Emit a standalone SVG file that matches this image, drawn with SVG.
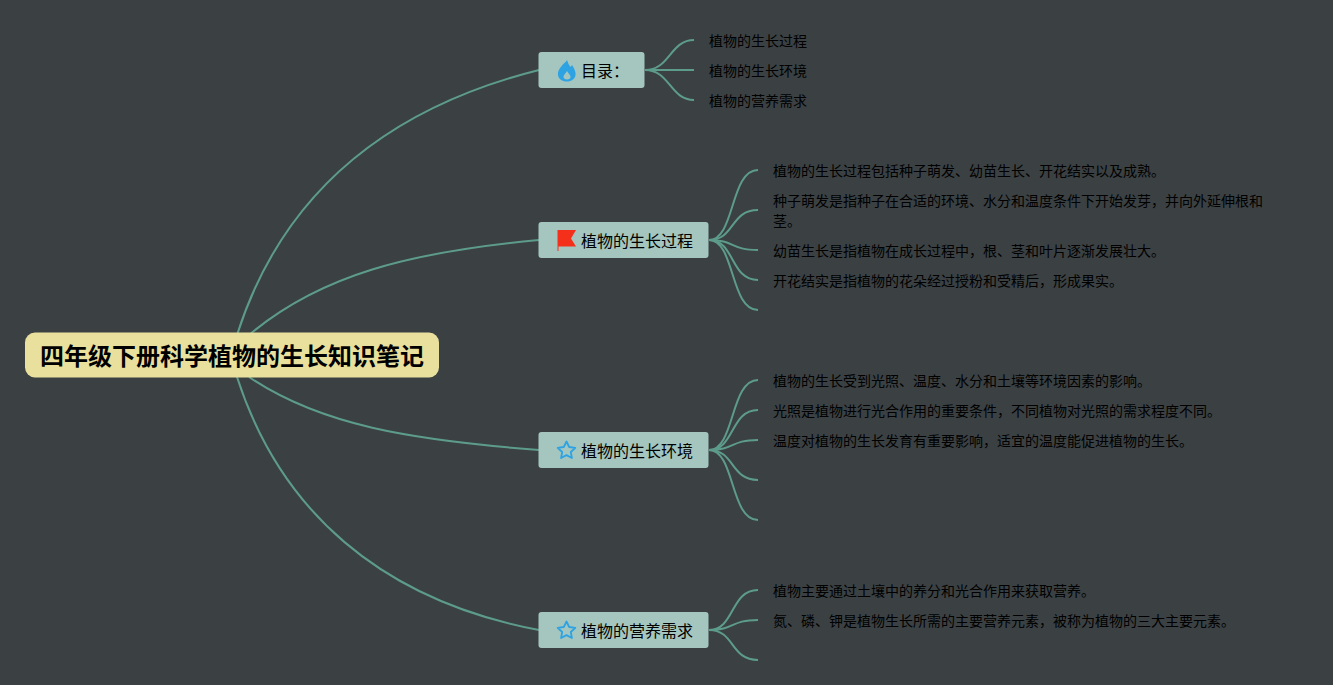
<svg xmlns="http://www.w3.org/2000/svg" width="1333" height="685" viewBox="0 0 1333 685">
<style>
text{font-family:"Liberation Sans","Noto Sans CJK SC",sans-serif;fill:#000}
.c{fill:none;stroke:#5d9c8a;stroke-width:2}
.b{fill:#a4c6bf}
.t{font-size:16px}
.l{font-size:14px}
.r{font-size:24px;font-weight:700}
.star{fill:none;stroke:#2ea3e3;stroke-width:1.800;stroke-linejoin:round}
</style>
<defs><path id="star" class="star" d="M0-8.500L2.700-3 8.800-2.200 4.300 2 5.400 8 0 5.100-5.400 8-4.300 2-8.800-2.200-2.700-3Z"/></defs>
<rect width="1333" height="685" fill="#3b4043"/>
<g id="connectors">
<path class="c" d="M237 335C280 200 380 110 539 70"/>
<path class="c" d="M249 335C320 275 410 252 539 240"/>
<path class="c" d="M249 377C320 425 410 440 539 450"/>
<path class="c" d="M237 377C280 510 380 600 539 630"/>
<path class="c" d="M645 70C670 70 670 40 694 40"/>
<path class="c" d="M645 70H694"/>
<path class="c" d="M645 70C670 70 670 100 694 100"/>
<path class="c" d="M709 240C735 240 730 170 758 170"/>
<path class="c" d="M709 240C735 240 730 210 758 210"/>
<path class="c" d="M709 240C735 240 730 250 758 250"/>
<path class="c" d="M709 240C735 240 730 280 758 280"/>
<path class="c" d="M709 240C735 240 730 310 758 310"/>
<path class="c" d="M709 450C735 450 730 380 758 380"/>
<path class="c" d="M709 450C735 450 730 410 758 410"/>
<path class="c" d="M709 450C735 450 730 440 758 440"/>
<path class="c" d="M709 450C735 450 730 480 758 480"/>
<path class="c" d="M709 450C735 450 730 520 758 520"/>
<path class="c" d="M709 630C735 630 730 590 758 590"/>
<path class="c" d="M709 630C735 630 730 620 758 620"/>
<path class="c" d="M709 630C735 630 730 660 758 660"/>
</g>
<g id="root"><rect x="25" y="332.500" width="414" height="45" rx="10" fill="#e8e09c"/><text class="r" x="40" y="365">四年级下册科学植物的生长知识笔记</text></g>
<g id="n1"><rect class="b" x="538.500" y="52" width="106" height="36" rx="3"/>
<path fill="#2ea3e3" fill-rule="evenodd" d="M567 60C568 63 569 65 570.500 67L572 65C574.500 69 576 72 575.500 75C575 79 571.500 81.500 567 81.500C562 81.500 558.500 79 558 75C557.500 71 560 68 562 65.500C563.500 63.500 566 62 567 60ZM567 71C565.500 73.500 563.500 75 563.500 77C563.500 78.500 565 79.500 567 79.500C569 79.500 570.500 78.500 570.500 77C570.500 75 568.500 73.500 567 71Z"/>
<text class="t" x="581" y="77">目录：</text></g>
<g id="n2"><rect class="b" x="538.500" y="222" width="170" height="36" rx="3"/>
<path fill="#f5301a" d="M557.500 230H576L571 238.500 576 246.500H558.500V251H557.500Z"/>
<text class="t" x="581" y="247">植物的生长过程</text></g>
<g id="n3"><rect class="b" x="538.500" y="432" width="170" height="36" rx="3"/><use href="#star" x="566.500" y="450"/><text class="t" x="581" y="457">植物的生长环境</text></g>
<g id="n4"><rect class="b" x="538.500" y="612" width="170" height="36" rx="3"/><use href="#star" x="566.500" y="630"/><text class="t" x="581" y="637">植物的营养需求</text></g>
<g id="leaves">
<text class="l" x="709" y="46">植物的生长过程</text>
<text class="l" x="709" y="76">植物的生长环境</text>
<text class="l" x="709" y="106">植物的营养需求</text>
<text class="l" x="773" y="176">植物的生长过程包括种子萌发、幼苗生长、开花结实以及成熟。</text>
<text class="l" x="773" y="206">种子萌发是指种子在合适的环境、水分和温度条件下开始发芽，并向外延伸根和</text>
<text class="l" x="773" y="226">茎。</text>
<text class="l" x="773" y="256">幼苗生长是指植物在成长过程中，根、茎和叶片逐渐发展壮大。</text>
<text class="l" x="773" y="286">开花结实是指植物的花朵经过授粉和受精后，形成果实。</text>
<text class="l" x="773" y="386">植物的生长受到光照、温度、水分和土壤等环境因素的影响。</text>
<text class="l" x="773" y="416">光照是植物进行光合作用的重要条件，不同植物对光照的需求程度不同。</text>
<text class="l" x="773" y="446">温度对植物的生长发育有重要影响，适宜的温度能促进植物的生长。</text>
<text class="l" x="773" y="596">植物主要通过土壤中的养分和光合作用来获取营养。</text>
<text class="l" x="773" y="626">氮、磷、钾是植物生长所需的主要营养元素，被称为植物的三大主要元素。</text>
</g>
</svg>
